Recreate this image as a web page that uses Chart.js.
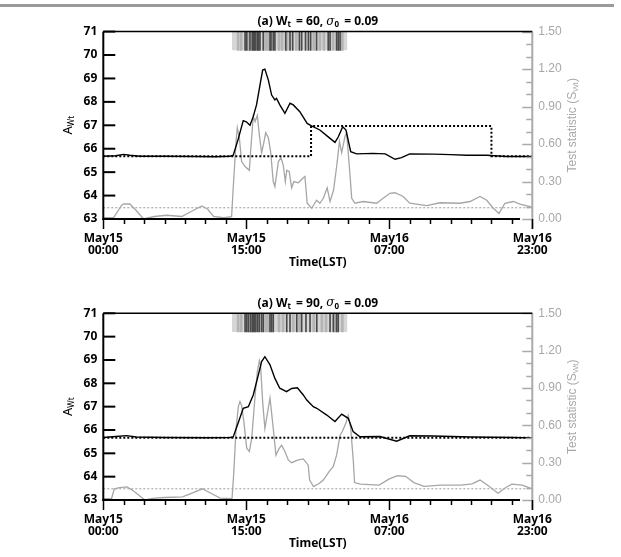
<!DOCTYPE html>
<html>
<head>
<meta charset="utf-8">
<script src="https://cdn.jsdelivr.net/npm/chart.js@4/dist/chart.umd.min.js"></script>
<style>
  body { margin: 0; background: #fff; width: 621px; height: 557px; overflow: hidden; position: relative; }
  #rule { position: absolute; left: 0; top: 4px; width: 614px; height: 3px; background: #9a9a9a; }
  canvas { position: absolute; left: 0; }
</style>
</head>
<body>
<div id="rule"></div>
<canvas id="c1" width="621" height="281" style="top:0px"></canvas>
<canvas id="c2" width="621" height="276" style="top:281px"></canvas>
<script>
// x runs on a sample index, 0..21 (one minor tick per unit, majors every 7)
const xTickLabels = [['May15', '00:00'], ['May15', '15:00'], ['May16', '07:00'], ['May16', '23:00']];
const windowSizes = [60, 90];
const sigma0 = 0.09;

// panel 1 (Wt = 60)
const topAx = [0, 0.6, 1.0, 1.3, 1.8, 3, 4.5, 5.5, 6.2, 6.36, 6.6, 6.85, 7.0, 7.18, 7.34, 7.5, 7.67, 7.8, 7.91, 8.08, 8.24, 8.4, 8.48, 8.64, 8.89, 9.14, 9.3, 9.62, 9.98, 10.19, 10.6, 10.95, 11.34, 11.5, 11.72, 11.88, 12.11, 12.4, 13.2, 13.8, 14.28, 14.6, 15.0, 16.15, 17.0, 17.79, 18.77, 19.75, 21];
const topAy = [65.68, 65.7, 65.76, 65.72, 65.68, 65.68, 65.67, 65.66, 65.68, 65.72, 66.4, 67.2, 67.15, 67.0, 67.37, 67.87, 68.72, 69.36, 69.4, 68.93, 68.29, 68.08, 68.15, 67.87, 67.51, 67.94, 67.87, 67.58, 67.08, 66.98, 66.8, 66.55, 66.27, 66.5, 66.94, 66.8, 65.87, 65.78, 65.8, 65.78, 65.55, 65.62, 65.78, 65.77, 65.75, 65.72, 65.72, 65.67, 65.67];
const topSx = [0, 0.5, 0.9, 1.0, 1.3, 1.6, 1.97, 2.5, 3.1, 3.84, 4.3, 4.82, 5.1, 5.4, 5.9, 6.28, 6.36, 6.5, 6.56, 6.66, 6.77, 6.94, 7.15, 7.21, 7.34, 7.43, 7.54, 7.64, 7.75, 7.83, 7.95, 8.08, 8.19, 8.32, 8.40, 8.57, 8.7, 8.81, 8.91, 8.98, 9.1, 9.22, 9.33, 9.55, 9.79, 9.87, 9.98, 10.2, 10.44, 10.6, 10.77, 10.96, 11.1, 11.27, 11.43, 11.56, 11.67, 11.83, 11.91, 12.04, 12.16, 12.32, 12.72, 13.38, 13.7, 14.03, 14.28, 14.68, 15.0, 15.83, 16.48, 17.46, 17.95, 18.44, 18.77, 19.09, 19.37, 19.66, 20.07, 20.4, 20.89, 21];
const topSy = [0.01, 0.01, 0.11, 0.12, 0.12, 0.07, 0.0, 0.02, 0.03, 0.02, 0.06, 0.105, 0.08, 0.02, 0.01, 0.018, 0.25, 0.62, 0.73, 0.65, 0.46, 0.42, 0.39, 0.54, 0.82, 0.78, 0.83, 0.67, 0.53, 0.59, 0.69, 0.65, 0.54, 0.30, 0.26, 0.46, 0.49, 0.43, 0.30, 0.39, 0.38, 0.25, 0.30, 0.29, 0.33, 0.34, 0.126, 0.086, 0.15, 0.126, 0.166, 0.25, 0.14, 0.23, 0.43, 0.62, 0.53, 0.66, 0.69, 0.43, 0.166, 0.126, 0.14, 0.126, 0.166, 0.206, 0.21, 0.18, 0.126, 0.107, 0.13, 0.126, 0.14, 0.18, 0.15, 0.086, 0.045, 0.126, 0.14, 0.12, 0.1, 0.09];
const topStepX = [0, 10.17, 10.17, 19.0, 19.0, 21];
const topStepY = [65.68, 65.68, 66.97, 66.97, 65.68, 65.68];
const topBand = [6.3, 11.95];
const topMarks = [6.94, 7.02, 7.18, 7.29, 7.34, 7.41, 7.47, 7.56, 7.61, 7.67, 7.83, 8.16, 8.21, 8.32, 8.40, 8.93, 9.14, 9.27, 9.6, 9.71, 9.9, 10.04, 10.15, 10.44, 11.01, 11.1, 11.42, 11.5, 11.59];
const topMids = [6.6, 6.75, 7.1, 7.95, 8.05, 8.6, 8.75, 9.0, 9.45, 10.3, 10.6, 10.8, 11.25, 11.7];

// panel 2 (Wt = 90)
const botAx = [0, 0.6, 1.14, 1.6, 3, 5, 6.2, 6.36, 6.6, 6.85, 7.1, 7.34, 7.59, 7.75, 7.91, 8.16, 8.4, 8.64, 8.97, 9.22, 9.5, 9.79, 9.96, 10.28, 10.45, 10.94, 11.34, 11.67, 11.99, 12.23, 12.56, 13.54, 14.36, 15.0, 16.15, 18, 20, 21];
const botAy = [65.68, 65.72, 65.76, 65.7, 65.68, 65.67, 65.68, 65.7, 66.3, 66.93, 67.0, 67.5, 68.36, 68.93, 69.14, 68.79, 68.21, 67.79, 67.64, 67.78, 67.81, 67.5, 67.28, 67.0, 66.93, 66.64, 66.36, 66.68, 66.5, 65.93, 65.71, 65.72, 65.52, 65.75, 65.74, 65.7, 65.68, 65.66];
const botSx = [0, 0.4, 0.54, 0.8, 1.16, 1.5, 2.03, 2.5, 3.0, 3.88, 4.4, 4.85, 5.2, 5.72, 6.3, 6.38, 6.5, 6.61, 6.69, 6.77, 6.88, 7.02, 7.15, 7.27, 7.43, 7.54, 7.64, 7.7, 7.8, 7.91, 8.16, 8.32, 8.45, 8.61, 8.73, 8.89, 9.06, 9.22, 9.51, 9.79, 10.03, 10.1, 10.29, 10.58, 10.77, 11.06, 11.26, 11.42, 11.59, 11.7, 11.88, 11.99, 12.11, 12.24, 12.3, 12.6, 13.5, 14.0, 14.4, 14.8, 15.2, 15.7, 16.5, 17.5, 18.05, 18.44, 18.8, 19.32, 19.7, 20.0, 20.5, 21];
const botSy = [0.01, 0.01, 0.09, 0.1, 0.105, 0.07, 0.0, 0.015, 0.02, 0.025, 0.06, 0.09, 0.06, 0.015, 0.01, 0.2, 0.575, 0.75, 0.79, 0.76, 0.63, 0.415, 0.39, 0.5, 0.84, 1.03, 1.12, 1.08, 0.79, 0.575, 0.82, 0.575, 0.36, 0.415, 0.44, 0.39, 0.32, 0.3, 0.32, 0.33, 0.28, 0.16, 0.107, 0.134, 0.16, 0.23, 0.27, 0.36, 0.52, 0.55, 0.62, 0.68, 0.58, 0.31, 0.14, 0.128, 0.12, 0.17, 0.195, 0.19, 0.14, 0.11, 0.12, 0.12, 0.13, 0.16, 0.12, 0.054, 0.1, 0.128, 0.12, 0.09];
const botStepX = [0, 21];
const botStepY = [65.67, 65.67];
const botBand = [6.3, 11.95];
const botMarks = [6.94, 7.02, 7.10, 7.21, 7.29, 7.34, 7.41, 7.47, 7.56, 7.64, 7.75, 7.83, 8.16, 8.24, 8.32, 8.98, 9.14, 9.47, 9.71, 9.92, 10.12, 10.45, 11.10, 11.26, 11.42, 11.50];
const botMids = [6.6, 6.75, 7.15, 7.95, 8.05, 8.6, 8.8, 9.3, 9.6, 10.3, 10.7, 10.9, 11.35, 11.7];

const xy = (xs, ys) => xs.map((x, i) => ({ x: x, y: ys[i] }));

function drawRich(ctx, parts, cx, cy, color) {
  let w = 0;
  parts.forEach(p => { ctx.font = p.font; w += ctx.measureText(p.t).width; });
  let x = cx - w / 2;
  ctx.fillStyle = color;
  ctx.textAlign = 'left';
  ctx.textBaseline = 'middle';
  parts.forEach(p => {
    ctx.font = p.font;
    ctx.fillText(p.t, x, cy + (p.dy || 0));
    x += ctx.measureText(p.t).width;
  });
}

const B12 = 'bold 12px "Noto Sans"';
const B8 = 'bold 8px "Noto Sans"';

const axisDeco = {
  id: 'axisDeco',
  afterDraw(chart, args, opts) {
    const { ctx, chartArea: a, scales } = chart;
    const xs = scales.x, yl = scales.y, yr = scales.y2;
    ctx.save();
    ctx.lineCap = 'butt';
    // right axis (grey)
    ctx.strokeStyle = '#aaaaaa';
    ctx.lineWidth = 2;
    ctx.beginPath(); ctx.moveTo(a.right, a.top); ctx.lineTo(a.right, a.bottom + 10); ctx.stroke();
    ctx.lineWidth = 1.5;
    for (let i = 0; i <= 15; i++) {
      const y = Math.round(yr.getPixelForValue(i / 10)) + 0.5;
      const len = i % 3 === 0 ? 10 : 6;
      ctx.beginPath(); ctx.moveTo(a.right, y); ctx.lineTo(a.right - len, y); ctx.stroke();
    }
    // frame (black)
    ctx.strokeStyle = '#000';
    ctx.lineWidth = 1.5;
    ctx.beginPath(); ctx.moveTo(a.left, a.top); ctx.lineTo(a.right, a.top); ctx.stroke();
    ctx.lineWidth = 2;
    ctx.beginPath(); ctx.moveTo(a.left, a.top); ctx.lineTo(a.left, a.bottom + 1); ctx.stroke();
    ctx.beginPath(); ctx.moveTo(a.left - 1, a.bottom); ctx.lineTo(xs.getPixelForValue(20.4), a.bottom); ctx.stroke();
    for (let v = 63; v <= 71; v++) {
      const y = yl.getPixelForValue(v);
      ctx.beginPath(); ctx.moveTo(a.left, y); ctx.lineTo(a.left + 12, y); ctx.stroke();
    }
    ctx.lineWidth = 1.5;
    for (let i = 0; i <= 21; i++) {
      const x = Math.round(xs.getPixelForValue(i)) + 0.5;
      const len = i % 7 === 0 ? 10 : 5;
      ctx.beginPath(); ctx.moveTo(x, a.bottom); ctx.lineTo(x, a.bottom + len); ctx.stroke();
    }
    // texts
    const cx = (a.left + a.right) / 2;
    drawRich(ctx, [
      { t: '(a) W', font: B12 }, { t: 't', font: B8, dy: 3 },
      { t: ' \u2009= ' + opts.wt + ', ', font: B12 },
      { t: 'σ', font: 'italic 12px "DejaVu Serif"' }, { t: '0', font: B8, dy: 3 },
      { t: ' \u2009= ' + sigma0.toFixed(2), font: B12 }
    ], cx, a.top - 10, '#000');
    drawRich(ctx, [{ t: 'Time(LST)', font: B12 }], cx, a.bottom + 44, '#000');
    ctx.save();
    ctx.translate(68, (a.top + a.bottom) / 2);
    ctx.rotate(-Math.PI / 2);
    drawRich(ctx, [{ t: 'A', font: '13px "Noto Sans"' }, { t: 'Wt', font: '8px "Noto Sans"', dy: 4 }], 0, 0, '#000');
    ctx.restore();
    ctx.save();
    ctx.translate(573, (a.top + a.bottom) / 2);
    ctx.rotate(-Math.PI / 2);
    drawRich(ctx, [
      { t: 'Test statistic (S', font: '12px "Liberation Sans"' },
      { t: 'Wt', font: '8px "Liberation Sans"', dy: 3 },
      { t: ')', font: '12px "Liberation Sans"' }
    ], 0, 0, '#a8a8a8');
    ctx.restore();
    ctx.restore();
  }
};

function makePanel(id, p) {
  const bar = (vals, color, thick, order) => ({
    type: 'bar',
    data: vals.map(v => ({ x: v, y: [70.2, 71] })),
    backgroundColor: color,
    barThickness: thick,
    grouped: false,
    yAxisID: 'y',
    order: order
  });
  return new Chart(document.getElementById(id), {
    type: 'line',
    data: {
      datasets: [
        {
          data: [{ x: p.band[0], y: 71 }, { x: p.band[1], y: 71 }],
          borderWidth: 0, pointRadius: 0, backgroundColor: '#d6d6d6',
          fill: { value: 70.2 }, yAxisID: 'y', order: 10
        },
        bar(p.mids, '#b4b4b4', 2, 9),
        bar(p.marks, '#4a4a4a', 1, 8),
        {
          data: [{ x: 0, y: sigma0 }, { x: 21, y: sigma0 }],
          borderColor: '#999', borderWidth: 1, borderDash: [2, 2],
          pointRadius: 0, yAxisID: 'y2', order: 5
        },
        {
          data: xy(p.sx, p.sy),
          borderColor: '#a6a6a6', borderWidth: 1.3,
          pointRadius: 0, yAxisID: 'y2', order: 4
        },
        {
          data: xy(p.stepX, p.stepY),
          borderColor: '#000', borderWidth: 2, borderDash: [2, 2],
          pointRadius: 0, yAxisID: 'y', order: 3
        },
        {
          data: xy(p.ax, p.ay),
          borderColor: '#000', borderWidth: 1.4,
          pointRadius: 0, yAxisID: 'y', order: 2
        }
      ]
    },
    options: {
      responsive: false,
      animation: false,
      layout: { padding: { top: p.padTop, left: 0, right: 0, bottom: 0 } },
      plugins: { legend: { display: false }, tooltip: { enabled: false }, axisDeco: { wt: p.wt } },
      scales: {
        x: {
          type: 'linear', min: 0, max: 21, offset: false,
          grid: { display: false, drawTicks: false }, border: { display: false },
          ticks: {
            stepSize: 7, autoSkip: false, maxRotation: 0, padding: 13,
            color: '#000', font: { family: 'Noto Sans', weight: 'bold', size: 12, lineHeight: 1.05 },
            callback: v => xTickLabels[v / 7]
          },
          afterFit: s => { s.height = p.xH; }
        },
        y: {
          position: 'left', min: 63, max: 71, beginAtZero: false,
          grid: { display: false, drawTicks: false }, border: { display: false },
          ticks: { stepSize: 1, padding: 6, color: '#000', font: { family: 'Noto Sans', weight: 'bold', size: 12 } },
          afterFit: s => { s.width = 103.3; }
        },
        y2: {
          position: 'right', min: 0, max: 1.5,
          grid: { display: false, drawTicks: false }, border: { display: false },
          ticks: {
            stepSize: 0.3, padding: 6, color: '#a8a8a8',
            font: { family: 'Liberation Sans', size: 12 },
            callback: v => v.toFixed(2)
          },
          afterFit: s => { s.width = 88.7; }
        }
      }
    },
    plugins: [axisDeco]
  });
}

makePanel('c1', {
  ax: topAx, ay: topAy, sx: topSx, sy: topSy, stepX: topStepX, stepY: topStepY,
  band: topBand, marks: topMarks, mids: topMids, wt: windowSizes[0], padTop: 31.6, xH: 62
});
makePanel('c2', {
  ax: botAx, ay: botAy, sx: botSx, sy: botSy, stepX: botStepX, stepY: botStepY,
  band: botBand, marks: botMarks, mids: botMids, wt: windowSizes[1], padTop: 32.3, xH: 57
});
</script>
</body>
</html>
